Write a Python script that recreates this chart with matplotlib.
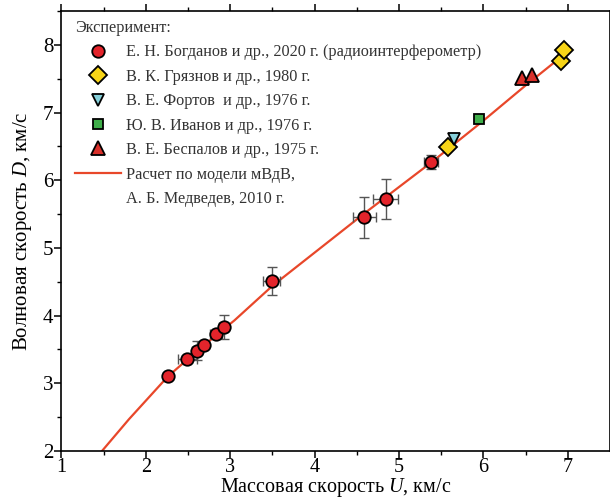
import matplotlib
matplotlib.use("Agg")
import matplotlib.pyplot as plt
from matplotlib.lines import Line2D

plt.rcParams['font.family'] = ['Liberation Serif', 'DejaVu Serif']
plt.rcParams['mathtext.fontset'] = 'custom'
plt.rcParams['mathtext.rm'] = 'Liberation Serif'
plt.rcParams['mathtext.it'] = 'Liberation Serif:italic'

# Богданов и др., 2020 (радиоинтерферометр)
bog_u = [2.26, 2.49, 2.60, 2.69, 2.83, 2.92, 3.49, 4.59, 4.84, 5.38]
bog_d = [3.11, 3.36, 3.48, 3.57, 3.73, 3.83, 4.51, 5.45, 5.72, 6.27]
bog_uerr = [0.03, 0.11, 0.05, 0.04, 0.07, 0.05, 0.10, 0.14, 0.15, 0.08]
bog_derr = [0.03, 0.05, 0.14, 0.04, 0.05, 0.18, 0.21, 0.30, 0.30, 0.10]

# Грязнов и др., 1980
gr_u = [5.58, 6.92, 6.95]
gr_d = [6.49, 7.76, 7.92]

# Фортов и др., 1976
fo_u = [5.65]
fo_d = [6.61]

# Иванов и др., 1976
iv_u = [5.95]
iv_d = [6.90]

# Беспалов и др., 1975
be_u = [6.46, 6.57]
be_d = [7.51, 7.55]

# расчет мВдВ, Медведев 2010
mod_u = [1.48, 1.80, 2.26, 2.60, 3.05, 3.50, 4.05, 4.60, 5.40, 6.00, 6.50, 6.90]
mod_d = [2.00, 2.47, 3.10, 3.47, 3.93, 4.44, 4.98, 5.52, 6.28, 6.88, 7.40, 7.80]

fig = plt.figure(figsize=(6.10, 4.99), dpi=100)
ax = fig.add_axes([0.1008, 0.0962, 0.8992, 0.8818])

ax.plot(mod_u, mod_d, color='#e8472a', lw=1.6, zorder=2)

ax.errorbar(bog_u, bog_d, xerr=bog_uerr, yerr=bog_derr, fmt='none',
            ecolor='#555555', elinewidth=1.0, capsize=3.5, capthick=1.0, zorder=3)
ax.plot(bog_u, bog_d, 'o', ms=9, mfc='#e3242b', mec='black', mew=1.3, zorder=4)
ax.plot(gr_u, gr_d, 'D', ms=9, mfc='#f7d417', mec='black', mew=1.3, zorder=4)
ax.plot(fo_u, fo_d, 'v', ms=9, mfc='#86d0da', mec='black', mew=1.3, zorder=4)
ax.plot(iv_u, iv_d, 's', ms=7.5, mfc='#3fae4a', mec='black', mew=1.3, zorder=4)
ax.plot(be_u, be_d, '^', ms=9.5, mfc='#d9302a', mec='black', mew=1.3, zorder=4)

ax.set_xlim(1, 7.5)
ax.set_ylim(2, 8.5)
ax.set_xticks(range(1, 8))
ax.set_yticks(range(2, 9))
ax.set_xticks([1.5, 2.5, 3.5, 4.5, 5.5, 6.5], minor=True)
ax.set_yticks([2.5, 3.5, 4.5, 5.5, 6.5, 7.5, 8.5], minor=True)
ax.tick_params(axis='both', which='major', labelsize=15, length=5, width=1.1, pad=1)
ax.tick_params(axis='x', which='major', labelsize=14.5, pad=0)
ax.tick_params(axis='both', which='minor', length=3, width=1.0)
ax.tick_params(axis='x', which='both', direction='out', top=True)
ax.tick_params(axis='y', which='both', direction='out', right=True)
for spine in ax.spines.values():
    spine.set_linewidth(1.2)

ax.set_xlabel('Массовая скорость $U$, км/с', fontsize=14.5, labelpad=-0.5)
ax.set_ylabel('Волновая скорость $D$, км/с', fontsize=15, labelpad=6)

handles = [
    Line2D([], [], ls='none', marker='o', ms=9, mfc='#e3242b', mec='black', mew=1.3),
    Line2D([], [], ls='none', marker='D', ms=9, mfc='#f7d417', mec='black', mew=1.3),
    Line2D([], [], ls='none', marker='v', ms=9, mfc='#86d0da', mec='black', mew=1.3),
    Line2D([], [], ls='none', marker='s', ms=7.5, mfc='#3fae4a', mec='black', mew=1.3),
    Line2D([], [], ls='none', marker='^', ms=9.5, mfc='#d9302a', mec='black', mew=1.3),
    Line2D([], [], color='#e8472a', lw=1.6),
    Line2D([], [], ls='none'),
]
labels = [
    'Е. Н. Богданов и др., 2020 г. (радиоинтерферометр)',
    'В. К. Грязнов и др., 1980 г.',
    'В. Е. Фортов  и др., 1976 г.',
    'Ю. В. Иванов и др., 1976 г.',
    'В. Е. Беспалов и др., 1975 г.',
    'Расчет по модели мВдВ,',
    'А. Б. Медведев, 2010 г.',
]
leg = ax.legend(handles, labels, title='Эксперимент:', loc='upper left',
                bbox_to_anchor=(0.009, 1.0),
                frameon=False, fontsize=11.7, title_fontsize=11.7,
                handlelength=2.8, handletextpad=0.3, labelspacing=0.52,
                borderaxespad=0.15, alignment='left')
for t in leg.get_texts() + [leg.get_title()]:
    t.set_color('#333333')

fig.savefig('out.png', dpi=100)
